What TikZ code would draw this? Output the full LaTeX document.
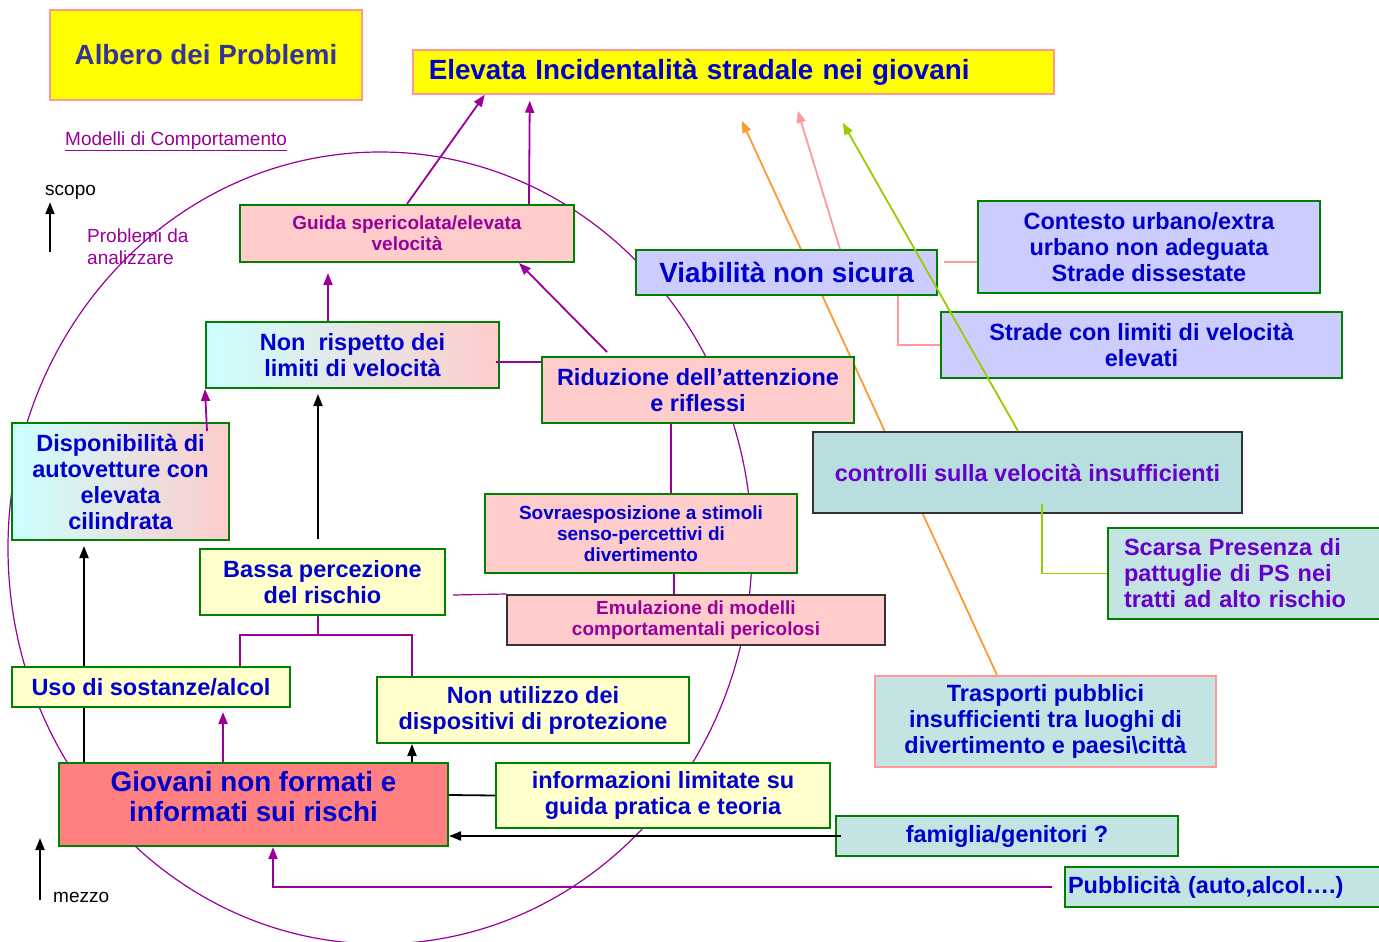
\documentclass[tikz,border=0pt]{standalone}
\usepackage{fontspec}
\setmainfont{Liberation Sans}
\usetikzlibrary{arrows.meta,backgrounds}

\definecolor{giallo}{HTML}{FFFF00}
\definecolor{bordorosa}{HTML}{FF9999}
\definecolor{blu}{HTML}{0000CC}
\definecolor{blunotte}{HTML}{333399}
\definecolor{viola}{HTML}{990099}
\definecolor{violetto}{HTML}{6600CC}
\definecolor{verde}{HTML}{008000}
\definecolor{rosa}{HTML}{FFCCCC}
\definecolor{ciano}{HTML}{CCFFFF}
\definecolor{lilla}{HTML}{CCCCFF}
\definecolor{acqua}{HTML}{B9DEDF}
\definecolor{acquachiara}{HTML}{C4E3E3}
\definecolor{giallino}{HTML}{FFFFCC}
\definecolor{salmone}{HTML}{FF8080}
\definecolor{grigio}{HTML}{333333}
\definecolor{arancio}{HTML}{FF9933}
\definecolor{lime}{HTML}{99CC00}

\newcommand{\normtxt}{\fontsize{23.5}{26}\selectfont\bfseries}
\newcommand{\grandetxt}{\fontsize{27.8}{30}\selectfont\bfseries}
\newcommand{\piccolotxt}{\fontsize{19}{21}\selectfont\bfseries}
\newcommand{\semplicetxt}{\fontsize{19}{22}\selectfont}

\begin{document}
\begin{tikzpicture}[x=1pt, y=-1pt, >={Triangle[length=12pt,width=9pt]},
  pbox/.style={draw=verde, line width=2pt, align=center, inner sep=2pt, text=blu, font=\normtxt},
  ybox/.style={pbox, draw=bordorosa, fill=giallo, line width=1.5pt},
  freetxt/.style={inner sep=0pt, font=\semplicetxt},
  conn/.style={line width=1.8pt, viola}]
  \useasboundingbox (0,0) rectangle (1379,942);

  % the circle of behaviour models
  \draw[viola, line width=1.2pt] (380,548) ellipse [x radius=372pt, y radius=396pt];

  \node(modelli)[freetxt, text=viola, anchor=base west] at (65,145) {\underline{Modelli di Comportamento}};
  \node(scopo)[freetxt, anchor=base west] at (45,195) {scopo};
  \node(probl)[freetxt, text=viola, anchor=north west, align=left] at (87,229) {Problemi da\\analizzare};
  \node(mezzo)[freetxt, anchor=base west] at (53,902) {mezzo};

  \node(albero)[ybox, minimum width=312, minimum height=90, text=blunotte, font=\grandetxt] at (206,55) {Albero dei Problemi};
  \node(elevata)[ybox, anchor=west, minimum height=44, text width=609, inner xsep=16, align=left, font=\grandetxt] at (412,72) {Elevata Incidentalità stradale nei giovani};

  \node(guida)[pbox, fill=rosa, minimum width=334, minimum height=57, text=viola, font=\piccolotxt] at (407,233.5) {Guida spericolata/elevata\\velocità};
  \node(nonrisp)[pbox, left color=ciano, right color=rosa, minimum width=293, minimum height=66] at (352.5,355) {Non~~rispetto dei\\limiti di velocità};
  \node(riduz)[pbox, fill=rosa, minimum width=312, minimum height=66] at (698,390) {Riduzione dell’attenzione\\e riflessi};
  \node(viab)[pbox, fill=lilla, minimum width=301, minimum height=45, font=\grandetxt] at (786.5,272.5) {Viabilità non sicura};
  \node(contesto)[pbox, fill=lilla, minimum width=342, minimum height=92] at (1149,247) {Contesto urbano/extra\\urbano non adeguata\\Strade dissestate};
  \node(stradelim)[pbox, fill=lilla, minimum width=401, minimum height=66] at (1141.5,345) {Strade con limiti di velocità\\elevati};
  \node(controlli)[pbox, draw=grigio, fill=acqua, minimum width=429, minimum height=81, text=violetto] at (1027.5,472.5) {controlli sulla velocità insufficienti};
  \node(dispon)[pbox, left color=ciano, right color=rosa, minimum width=217, minimum height=117] at (120.5,481.5) {Disponibilità di\\autovetture con\\elevata\\cilindrata};
  \node(sovra)[pbox, fill=rosa, minimum width=312, minimum height=79, font=\piccolotxt] at (641,533.5) {Sovraesposizione a stimoli\\senso-percettivi di\\divertimento};
  \node(bassa)[pbox, fill=giallino, minimum width=245, minimum height=66] at (322.5,582) {Bassa percezione\\del rischio};
  \node(emul)[pbox, draw=grigio, fill=rosa, minimum width=378, minimum height=50, text=viola, font=\piccolotxt] at (696,620) {Emulazione di modelli\\comportamentali pericolosi};
  \node(uso)[pbox, fill=giallino, minimum width=278, minimum height=40] at (151,687) {Uso di sostanze/alcol};
  \node(nonutil)[pbox, fill=giallino, minimum width=312, minimum height=66] at (533,710) {Non utilizzo dei\\dispositivi di protezione};
  \node(giovani)[pbox, fill=salmone, minimum width=389, minimum height=83, font=\grandetxt] at (253.5,804.5) {Giovani non formati e\\informati sui rischi\\[-14pt]\mbox{}};
  \node(inform)[pbox, fill=giallino, minimum width=334, minimum height=65] at (663,795.5) {informazioni limitate su\\guida pratica e teoria};
  \node(famiglia)[pbox, fill=acquachiara, minimum width=342, minimum height=40] at (1007,836) {famiglia/genitori ?};
  \node(trasporti)[pbox, draw=bordorosa, fill=acquachiara, minimum width=341, minimum height=91] at (1045.5,721.5) {Trasporti pubblici\\insufficienti tra luoghi di\\divertimento e paesi\textbackslash città};
  \node(scarsa)[pbox, anchor=west, fill=acquachiara, text width=260, inner xsep=16, align=left, minimum height=91, text=violetto] at (1107,573.5) {Scarsa Presenza di\\pattuglie di PS nei\\tratti ad alto rischio};
  \node(pubbl)[pbox, anchor=west, fill=acquachiara, text width=320, inner xsep=3, align=left, minimum height=40] at (1064,887) {Pubblicità (auto,alcol….)};

  \begin{pgfonlayer}{background}
    \draw[->, line width=1.8pt, arancio] ([xshift=-48.5pt]trasporti.north) -- ([xshift=8.5pt,yshift=-26pt]elevata.south);
  \end{pgfonlayer}

  \draw[->, line width=1.8pt] ([xshift=5pt,yshift=-53pt]scopo.south west) -- ([xshift=5pt,yshift=-3pt]scopo.south west);
  \draw[->, line width=1.8pt] ([xshift=-13pt,yshift=2pt]mezzo.base west) -- ([xshift=-13pt,yshift=64pt]mezzo.base west);

  \draw[->, conn] (guida.north) -- ([xshift=-248.5pt]elevata.south);
  \draw[->, conn] ([xshift=122pt]guida.north) -- ([xshift=-203.5pt,yshift=-6pt]elevata.south);
  \draw[->, conn] ([xshift=-24.5pt]nonrisp.north) -- ([xshift=-79pt,yshift=-10pt]guida.south);
  \draw[->, conn] ([xshift=-91pt,yshift=4pt]riduz.north) -- ([xshift=112pt]guida.south);
  \draw[conn, line width=1.2pt] ([xshift=-4pt,yshift=-7pt]nonrisp.east) -- ([yshift=28pt]riduz.west);
  \draw[conn, line width=1.2pt] ([xshift=-27pt]riduz.south) -- ([xshift=30pt]sovra.north);
  \draw[conn, line width=1.2pt] ([xshift=33pt]sovra.south) -- ([xshift=-22pt]emul.north);
  \draw[conn, line width=1.2pt] ([xshift=7pt,yshift=-13pt]bassa.east) -- (emul.north west);
  \draw[->, line width=1.8pt] ([xshift=-4.5pt,yshift=9pt]bassa.north) -- ([xshift=-34.5pt,yshift=-5pt]nonrisp.south);
  \draw[->, conn] ([xshift=-23pt,yshift=-9pt]dispon.north east) -- (nonrisp.south west);
  \draw[->, line width=1.8pt] ([xshift=-67pt]uso.north) -- ([xshift=-36.5pt,yshift=-5pt]dispon.south);
  \draw[line width=1.8pt] ([xshift=-169.5pt]giovani.north) -- ([xshift=-67pt]uso.south);
  \draw[->, conn] ([xshift=-30.5pt]giovani.north) -- ([xshift=72pt,yshift=-4pt]uso.south);
  \draw[->, line width=1.8pt] ([xshift=158.5pt]giovani.north) -- ([xshift=-121pt]nonutil.south);
  \draw[conn, line width=1.2pt] ([xshift=-4.5pt]bassa.south) -- ++(0,19) coordinate(bivio);
  \draw[conn, line width=1.2pt] ([xshift=89pt]uso.north) |- (bivio) -| ([xshift=-121pt]nonutil.north);
  \draw[line width=1.8pt] ([yshift=9.5pt]giovani.east) -- (inform.west);
  \draw[->, line width=1.8pt] ([xshift=6pt]famiglia.west) -- ([yshift=-31.5pt]giovani.east);
  \draw[->, conn] ([xshift=-12pt]pubbl.west) -| ([xshift=19.5pt]giovani.south);

  \draw[->, line width=1.8pt, bordorosa] ([xshift=53.5pt]viab.north) -- ([xshift=64.5pt,yshift=-16pt]elevata.south);
  \draw[line width=1.8pt, bordorosa] ([xshift=6pt,yshift=10.5pt]viab.east) -- ([yshift=-15pt]contesto.west);
  \draw[line width=1.8pt, bordorosa] ([xshift=111.5pt]viab.south) |- (stradelim.west);
  \draw[line width=1.8pt, lime] ([xshift=14.5pt,yshift=10pt]controlli.south) |- (scarsa.west);
  \draw[->, line width=1.8pt, lime] ([xshift=-9.5pt]controlli.north) -- ([xshift=109.5pt,yshift=-28pt]elevata.south);
\end{tikzpicture}
\end{document}
